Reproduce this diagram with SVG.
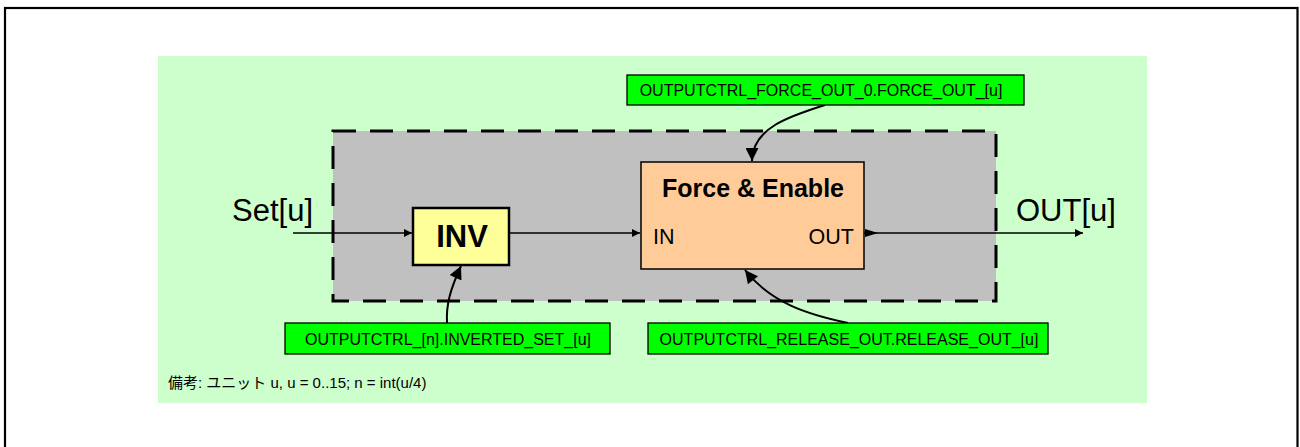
<svg xmlns="http://www.w3.org/2000/svg" width="1300" height="447" viewBox="0 0 1300 447">
  <style>
    .lbl { fill: #00ff00; stroke: #000; stroke-width: 1.3; }
    .lbltxt { font-family: "Liberation Sans", Arial, sans-serif; font-size: 16px; fill: #000; text-anchor: middle; }
    .wire { fill: none; stroke: #000; stroke-width: 1.5; }
    .bend { fill: none; stroke: #000; stroke-width: 2; }
    .sig { font-family: "Liberation Sans", Arial, sans-serif; font-size: 31px; fill: #000; }
  </style>
  <defs>
    <marker id="arrS" viewBox="0 0 10 10" refX="10" refY="5" markerWidth="9" markerHeight="8" markerUnits="userSpaceOnUse" orient="auto">
      <path d="M0,0 L10,5 L0,10 Z" fill="#000"/>
    </marker>
    <marker id="arrL" viewBox="0 0 10 10" refX="10" refY="5" markerWidth="15" markerHeight="13" markerUnits="userSpaceOnUse" orient="auto">
      <path d="M0,0 L10,5 L0,10 Z" fill="#000"/>
    </marker>
  </defs>

  <!-- page frame -->
  <rect x="0" y="0" width="1300" height="447" fill="#fff"/>
  <rect x="5" y="8" width="1292.5" height="460" fill="none" stroke="#000" stroke-width="2.2"/>

  <!-- light green background panel -->
  <rect x="158" y="56" width="989" height="347" fill="#ccffcc"/>

  <!-- dashed grey region -->
  <rect id="region" x="333" y="131" width="663" height="170" fill="#c0c0c0" stroke="#000" stroke-width="3" stroke-dasharray="23,14"/>

  <!-- connectors -->
  <g id="connectors">
    <path class="wire" d="M293,233 H412" marker-end="url(#arrS)"/>
    <path class="wire" d="M509,233 H640" marker-end="url(#arrS)"/>
    <path class="wire" d="M864,233 H1083" marker-end="url(#arrS)"/>
    <path d="M865,229 L878,233 L865,237 Z" fill="#000"/>
    <path class="bend" d="M825,105 C790,116 752,128 752,161" marker-end="url(#arrL)"/>
    <path class="bend" d="M447,323 C446,305 450,290 461,266" marker-end="url(#arrL)"/>
    <path class="bend" d="M848,323 C805,314 770,302 745,270" marker-end="url(#arrL)"/>
  </g>

  <!-- signal names -->
  <text class="sig" x="232" y="221">Set[u]</text>
  <text class="sig" x="1016" y="221">OUT[u]</text>

  <!-- INV block -->
  <g id="inv">
    <rect x="413" y="208" width="96" height="57" fill="#ffff99" stroke="#000" stroke-width="2.5"/>
    <text x="462" y="247" font-family="Liberation Sans, Arial, sans-serif" font-size="31" font-weight="bold" text-anchor="middle">INV</text>
  </g>

  <!-- Force & Enable block -->
  <g id="force-enable">
    <rect x="641" y="162" width="223" height="107" fill="#ffcc99" stroke="#000" stroke-width="1.5"/>
    <text x="753" y="197" font-family="Liberation Sans, Arial, sans-serif" font-size="25" font-weight="bold" text-anchor="middle">Force &amp; Enable</text>
    <text x="653" y="244" font-family="Liberation Sans, Arial, sans-serif" font-size="21.5">IN</text>
    <text x="854" y="244" font-family="Liberation Sans, Arial, sans-serif" font-size="21.5" text-anchor="end">OUT</text>
  </g>

  <!-- register labels -->
  <g id="reg-force">
    <rect class="lbl" x="627" y="75" width="397" height="30"/>
    <text class="lbltxt" x="821" y="96">OUTPUTCTRL_FORCE_OUT_0.FORCE_OUT_[u]</text>
  </g>
  <g id="reg-inverted">
    <rect class="lbl" x="285" y="323" width="325" height="31"/>
    <text class="lbltxt" x="448" y="344.5">OUTPUTCTRL_[n].INVERTED_SET_[u]</text>
  </g>
  <g id="reg-release">
    <rect class="lbl" x="648" y="323" width="400" height="31"/>
    <text class="lbltxt" x="849" y="344.5">OUTPUTCTRL_RELEASE_OUT.RELEASE_OUT_[u]</text>
  </g>

  <!-- note -->
  <text x="168" y="388" font-family="Liberation Sans, 'Noto Sans CJK JP', sans-serif" font-size="15">備考: ユニット u, u = 0..15; n = int(u/4)</text>
</svg>
